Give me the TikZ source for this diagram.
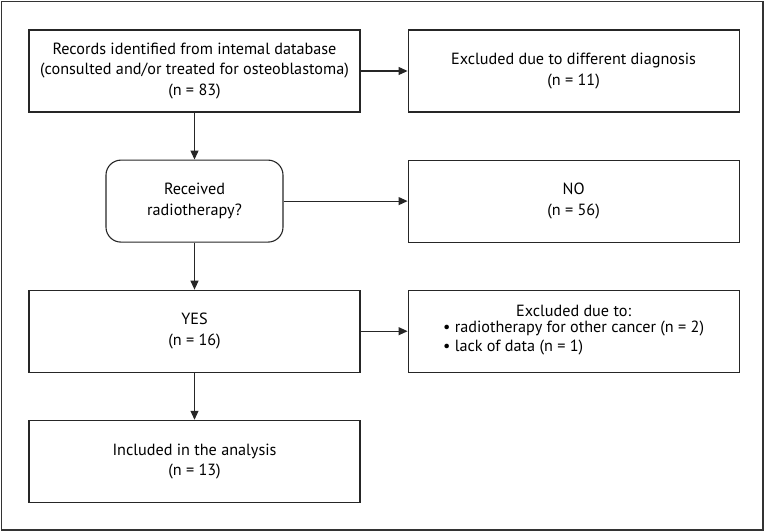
\documentclass[tikz,border=0pt]{standalone}
\usepackage{fontspec}
\setmainfont{PT Sans}
\usepackage{tikz}
\usetikzlibrary{arrows.meta,positioning}

\begin{document}
\begin{tikzpicture}[
    x=1pt, y=-1pt,
    >={Triangle[length=9pt,width=8pt]},
    node distance=47pt,
    font=\fontsize{16.2}{20.5}\selectfont,
    box/.style={draw=black!85, line width=1.1pt, align=center, minimum width=331pt, minimum height=82pt, inner sep=4pt},
    decision/.style={box, rounded corners=15pt, minimum width=177pt},
    link/.style={->, draw=black!85, line width=1.1pt}
]
\useasboundingbox (0,0) rectangle (768,532);
\draw[black!80, line width=1.4pt] (1.5,1.5) rectangle (763,530);

\node[box] (records) at (194.5,71) {Records identified from intemal database\\(consulted and/or treated for osteoblastoma)\\(n = 83)};
\node[box, right=of records] (diagnosis) {Excluded due to different diagnosis\\(n = 11)};
\node[decision, below=of records] (radio) {Received\\radiotherapy?};
\node[box, below=of diagnosis] (no) {NO\\(n = 56)};
\node[box, below=of radio] (yes) {YES\\(n = 16)};
\node[box, below=of no] (excluded) {Excluded due to:\\
    \begin{tabular}{@{}l@{}}
    \textbullet\ radiotherapy for other cancer (n = 2)\\[-1.5pt]
    \textbullet\ lack of data (n = 1)
    \end{tabular}};
\node[box, below=of yes] (included) {Included in the analysis\\(n = 13)};

\draw[link] (records) -- (diagnosis);
\draw[link] (records) -- (radio);
\draw[link] (radio) -- (no);
\draw[link] (radio) -- (yes);
\draw[link] (yes) -- (excluded);
\draw[link] (yes) -- (included);
\end{tikzpicture}
\end{document}
